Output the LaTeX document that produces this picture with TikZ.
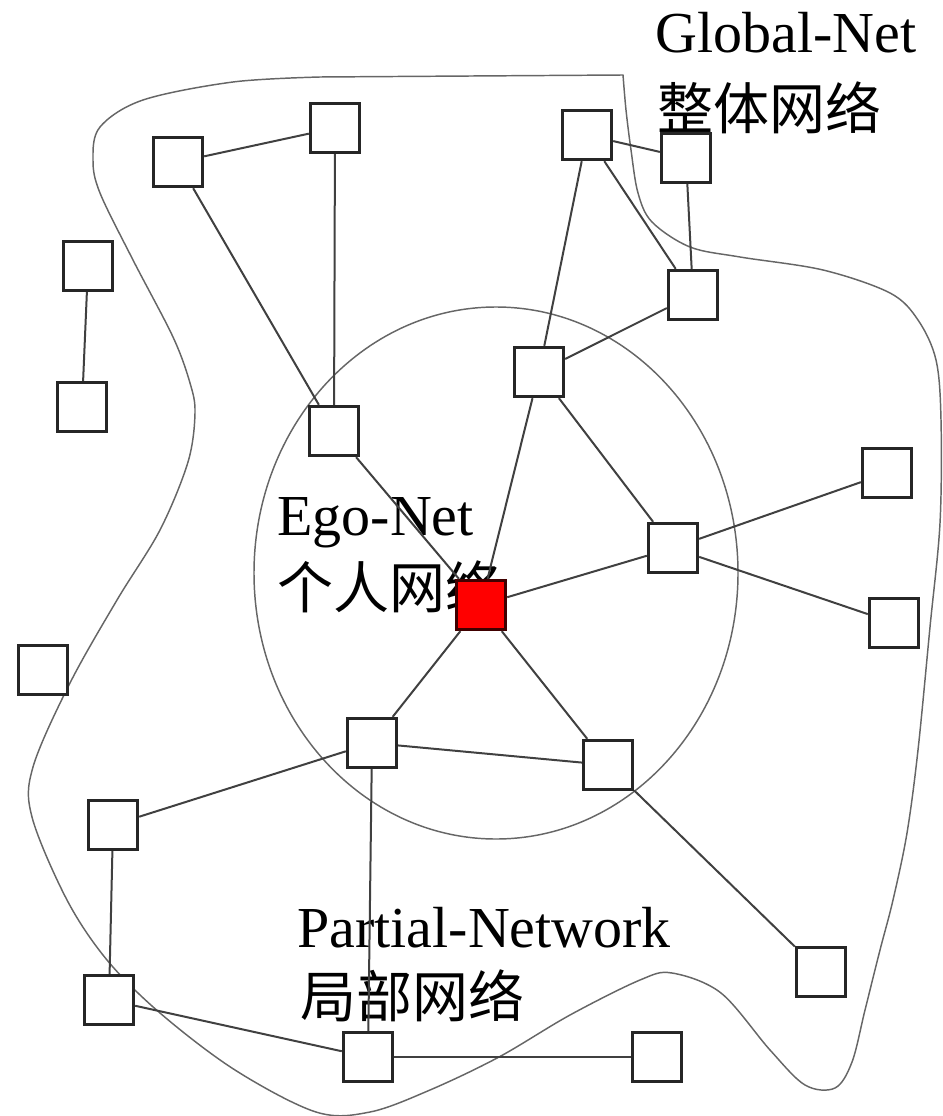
\documentclass[tikz,border=0pt]{standalone}
\usepackage{fontspec}
\setmainfont{Liberation Serif}
\newfontfamily\cjk{Noto Sans CJK SC}
\tikzset{
  sq/.style={draw=black!85, line width=2.25pt, fill=white, minimum size=37pt, inner sep=0pt},
  egosq/.style={sq, fill=red, draw=black!75!red},
  link/.style={draw=black!75, line width=1.5pt},
  rim/.style={draw=black!60, line width=1.1pt},
  lbl/.style={anchor=base west, inner sep=0pt, font=\fontsize{43.5}{52}\selectfont},
  cnlbl/.style={anchor=base west, inner sep=0pt, font=\fontsize{42}{52}\selectfont\cjk}
}
\begin{document}
\begin{tikzpicture}[x=0.75pt,y=0.75pt,yscale=-1,xscale=1]
\useasboundingbox (0,0) rectangle (942,1116);

%Shape: Global-Net boundary
\draw [rim] plot [smooth, tension=0.55] coordinates {(320,77) (233,82) (143,100) (100,127) (93,160) (100,193) (133,260) (173,337) (190,383) (195,413) (188,462) (160,530) (117,600) (70,683) (33,767) (32,817) (67,900) (107,960) (160,1013) (235,1070) (316,1112) (370,1112) (430,1090) (499,1057) (570,1015) (640,980) (672,973) (721,993) (770,1050) (805,1085) (835,1088) (852,1062) (865,1010) (880,950) (893,900) (907,833) (918,750) (930,627) (940,523) (941,420) (936,360) (918,320) (890,293) (823,270) (740,257) (690,247) (652,222) (638,193) (631,150) (626,110) (623,75)} -- cycle;
%Shape: Ego-Net circle
\draw [rim] (496,573) ellipse (242 and 266);

% Text Node
\node [lbl] (glob) at (655,53) {Global-Net};
\node [cnlbl] (globcn) at (657,130) {整体网络};
% Text Node
\node [lbl] (ego) at (277,535) {Ego-Net};
\node [cnlbl] (egocn) at (277,608) {个人网络};
% Text Node
\node [lbl] (part) at (297,947) {Partial-Network};
\node [cnlbl] (partcn) at (300,1017) {局部网络};

%Shape: Squares
\node [sq] (n1) at (178,162) {};
\node [sq] (n2) at (335,128) {};
\node [sq] (n3) at (587,135) {};
\node [sq] (n4) at (686,158) {};
\node [sq] (n5) at (693,295) {};
\node [sq] (n6) at (88,266) {};
\node [sq] (n7) at (82,407) {};
\node [sq] (n8) at (539,372) {};
\node [sq] (n9) at (334,431) {};
\node [sq] (n10) at (887,473) {};
\node [sq] (n11) at (673,548) {};
\node [egosq] (me) at (481,605) {};
\node [sq] (n12) at (894,623) {};
\node [sq] (n13) at (43,670) {};
\node [sq] (n14) at (372,743) {};
\node [sq] (n15) at (608,765) {};
\node [sq] (n16) at (113,825) {};
\node [sq] (n17) at (821,972) {};
\node [sq] (n18) at (109,1000) {};
\node [sq] (n19) at (368,1057) {};
\node [sq] (n20) at (657,1057) {};

%Straight Lines
\draw [link] (n1) -- (n2);
\draw [link] (n1) -- (n9);
\draw [link] (n2) -- (n9);
\draw [link] (n3) -- (n4);
\draw [link] (n3) -- (n5);
\draw [link] (n3) -- (n8);
\draw [link] (n4) -- (n5);
\draw [link] (n8) -- (n5);
\draw [link] (n6) -- (n7);
\draw [link] (n8) -- (me);
\draw [link] (n8) -- (n11);
\draw [link] (n9) -- (me);
\draw [link] (n11) -- (me);
\draw [link] (n11) -- (n10);
\draw [link] (n11) -- (n12);
\draw [link] (me) -- (n14);
\draw [link] (me) -- (n15);
\draw [link] (n14) -- (n15);
\draw [link] (n14) -- (n16);
\draw [link] (n14) -- (n19);
\draw [link] (n15) -- (n17);
\draw [link] (n16) -- (n18);
\draw [link] (n18) -- (n19);
\draw [link] (n19) -- (n20);
\end{tikzpicture}
\end{document}
